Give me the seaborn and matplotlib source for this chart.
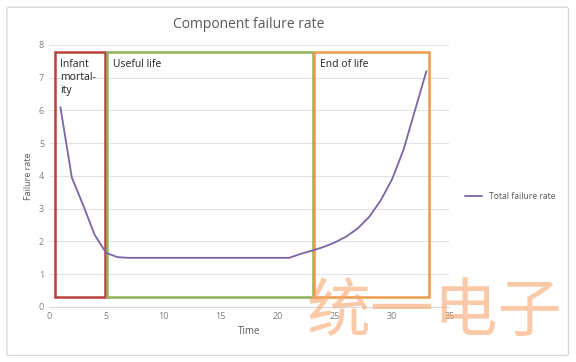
import numpy as np
import pandas as pd
import matplotlib
matplotlib.use("Agg")
import matplotlib.pyplot as plt
from matplotlib.patches import Rectangle, FancyBboxPatch
import seaborn as sns

# values
time = list(range(1, 34))
failure_rate = [6.1, 3.95, 3.1, 2.2, 1.65, 1.52, 1.5, 1.5, 1.5, 1.5,
                1.5, 1.5, 1.5, 1.5, 1.5, 1.5, 1.5, 1.5, 1.5, 1.5,
                1.5, 1.62, 1.72, 1.83, 1.97, 2.15, 2.4, 2.75, 3.25, 3.9,
                4.8, 6.0, 7.2]

# phase boxes: (label, x start, x end, colour)
phase_labels = ["Infant\nmortal-\nity", "Useful life", "End of life"]
phase_start = [0.5, 5.1, 23.2]
phase_end = [4.9, 23.1, 33.2]
phase_colors = ["#B8413F", "#8DB356", "#EE9A4D"]
box_bottom, box_top = 0.3, 7.78

df = pd.DataFrame({"Time": time, "Total failure rate": failure_rate})

sns.set_style("white")
plt.rcParams["font.family"] = ["Open Sans", "DejaVu Sans"]

fig = plt.figure(figsize=(5.76, 3.62), dpi=100)
fig.patches.append(FancyBboxPatch((0.012, 0.018), 0.975, 0.962,
                                  boxstyle="round,pad=0,rounding_size=0.005",
                                  transform=fig.transFigure, fill=False,
                                  edgecolor="#D9D9D9", linewidth=1))
ax = fig.add_axes([0.085, 0.152, 0.695, 0.724])

sns.lineplot(data=df, x="Time", y="Total failure rate", ax=ax,
             color="#7A64A3", linewidth=1.3, label="Total failure rate")

for lab, x0, x1, col in zip(phase_labels, phase_start, phase_end, phase_colors):
    ax.add_patch(Rectangle((x0, box_bottom), x1 - x0, box_top - box_bottom,
                           fill=False, edgecolor=col, linewidth=1.8))
    ax.text(x0 + 0.5, box_top - 0.2, lab, fontsize=7.5, color="#222222",
            va="top", ha="left", linespacing=1.3)

ax.set_xlim(0, 35)
ax.set_ylim(0, 8)
ax.set_xticks(range(0, 36, 5))
ax.set_yticks(range(0, 9))
ax.grid(axis="y", color="#E3E3E3", linewidth=0.8)
for s in ["top", "right", "left"]:
    ax.spines[s].set_visible(False)
ax.spines["bottom"].set_color("#D9D9D9")
ax.tick_params(axis="both", labelsize=6.5, colors="#7F7F7F", length=0)
ax.set_xlabel("Time", fontsize=7, color="#595959")
ax.set_ylabel("Failure rate", fontsize=6.5, color="#595959")
ax.set_title("Component failure rate", fontsize=10, color="#595959", pad=12)

ax.legend(loc="center left", bbox_to_anchor=(1.02, 0.42), frameon=False,
          fontsize=6.2, labelcolor="#595959", handlelength=2.0)

# watermark over the lower right corner
fig.text(0.755, 0.135, "统一电子", fontsize=46, color="#F9A66C", alpha=0.6,
         ha="center", va="center", family=["Noto Sans CJK SC", "DejaVu Sans"])

fig.savefig("out.png", dpi=100)
